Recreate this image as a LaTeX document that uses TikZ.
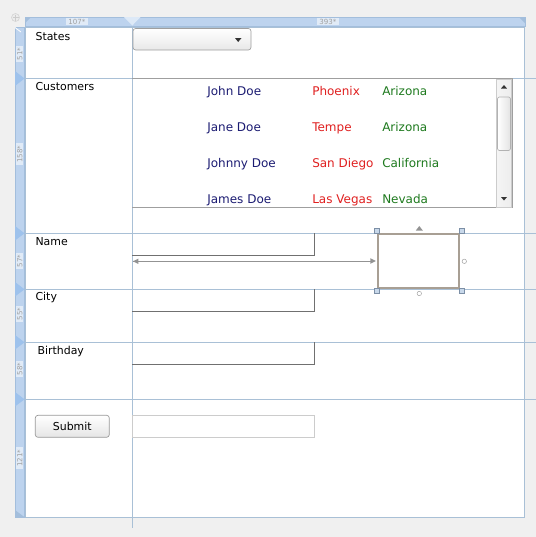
\documentclass[tikz,border=0pt]{standalone}
\usepackage{fontspec}
\setmainfont{DejaVu Sans}
\usetikzlibrary{positioning}

\definecolor{bggray}{HTML}{F0F0F0}
\definecolor{rulerblue}{HTML}{BDD3EE}
\definecolor{rulerline}{HTML}{A3BEDC}
\definecolor{markblue}{HTML}{9EC2EC}
\definecolor{markpale}{HTML}{DDE9F7}
\definecolor{gridline}{HTML}{A9C0D6}
\definecolor{boxline}{HTML}{707070}
\definecolor{navytext}{HTML}{1B1B72}
\definecolor{redtext}{HTML}{E02020}
\definecolor{greentext}{HTML}{1E7A1E}
\definecolor{selframe}{HTML}{A89F94}
\definecolor{handle}{HTML}{C8D8EA}
\definecolor{handleline}{HTML}{7C8FA6}

\begin{document}
\begin{tikzpicture}[x=0.75pt,y=-0.75pt,
    lbl/.style={anchor=base west,inner sep=0,font=\fontsize{8.2}{10}\selectfont},
    item/.style={anchor=base west,inner sep=0,font=\fontsize{9}{11}\selectfont},
    rulertext/.style={inner xsep=1.5,inner ysep=0.6,fill=rulerblue!45!white,text=gray!75,font=\fontsize{5.3}{6}\selectfont},
    grid/.style={draw=gridline,line width=0.75pt},
    tbox/.style={draw=boxline,line width=0.75pt},
    knob/.style={fill=handle,draw=handleline,line width=0.4pt}]

    % Background and frame
    \fill[bggray] (0,0) rectangle (536,537);
    \useasboundingbox (0,0) rectangle (536,537);
    \fill[white] (25,27) rectangle (524.3,517.3);

    % Rulers
    \filldraw[fill=rulerblue,draw=rulerline,line width=0.4pt] (25,17) -- (525,17) -- (525,26) -- (25,26) -- cycle;
    \fill[rulerline] (519,17) -- (525,17) -- (525,23) -- cycle;
    \filldraw[fill=rulerblue,draw=rulerline,line width=0.4pt] (15,27) -- (24.7,27) -- (24.7,517.3) -- (15,517.3) -- cycle;
    \fill[rulerline] (15,510) -- (24.7,517.3) -- (15,517.3) -- cycle;
    \fill[rulerline] (25,17) -- (31,17) -- (25,23) -- cycle;
    \fill[markpale] (124,17) -- (132.3,25.5) -- (140.5,17) -- cycle;
    \draw[white,line width=0.6pt] (15,27.5) -- (21,32);
    \node[rulertext] (w1) at (77,21.5) {107*};
    \node[rulertext] (w2) at (328,21.5) {393*};
    \node[rulertext,rotate=90] (h1) at (19.8,54) {51*};
    \node[rulertext,rotate=90] (h2) at (19.8,154) {158*};
    \node[rulertext,rotate=90] (h3) at (19.8,261) {57*};
    \node[rulertext,rotate=90] (h4) at (19.8,314) {55*};
    \node[rulertext,rotate=90] (h5) at (19.8,369) {58*};
    \node[rulertext,rotate=90] (h6) at (19.8,458) {121*};

    % Move handle
    \filldraw[fill=gray!15,draw=gray!35,line width=0.4pt] (15.5,17.5) circle (4);
    \draw[gray!40,line width=0.4pt] (12.5,17.5) -- (18.5,17.5) (15.5,14.5) -- (15.5,20.5);

    % Grid lines
    \draw[grid] (132.3,26) -- (132.3,527.5);
    \draw[grid] (24.7,78.5) -- (536,78.5);
    \draw[grid] (24.7,233.3) -- (536,233.3);
    \draw[grid] (24.7,289.3) -- (536,289.3);
    \draw[grid] (24.7,342.3) -- (536,342.3);
    \draw[grid] (24.7,399.3) -- (536,399.3);
    \draw[draw=gridline,line width=0.75pt] (25,27) rectangle (524.3,517.3);

    % Row markers on the left ruler
    \fill[markblue] (15,71) -- (24.5,78.5) -- (15,86) -- cycle;
    \fill[markblue] (15,226) -- (24.5,233.3) -- (15,240.5) -- cycle;
    \fill[markblue] (15,282) -- (24.5,289.3) -- (15,296.5) -- cycle;
    \fill[markblue] (15,335) -- (24.5,342.3) -- (15,349.5) -- cycle;
    \fill[markblue] (15,392) -- (24.5,399.3) -- (15,406.5) -- cycle;

    % Labels, first column
    \node[lbl] (states) at (35.3,40) {States};
    \node[lbl] (customers) at (35.3,90) {Customers};
    \node[lbl] (name) at (35.3,245) {Name};
    \node[lbl] (city) at (35.3,300.7) {City};
    \node[lbl] (birthday) at (37.3,354) {Birthday};

    % Combo box
    \draw[rounded corners=2,top color=white,bottom color=gray!18,draw=gray!75,line width=0.5pt] (133,28.5) rectangle (251,50);
    \fill[black!80] (235,38) -- (241.5,38) -- (238.2,42) -- cycle;

    % List box with scroll bar
    \draw[draw=gray!75,line width=0.6pt] (132.3,78.5) -- (512,78.5) -- (512,207.3) -- (132.3,207.3);
    \filldraw[left color=gray!8,right color=gray!14,draw=gray!40,line width=0.4pt] (496,79) rectangle (511.5,206.8);
    \draw[rounded corners=1.5,left color=white,right color=gray!22,draw=gray!60,line width=0.5pt] (497.5,97) rectangle (510.5,150.5);
    \fill[black!80] (501,88.5) -- (507,88.5) -- (504,85) -- cycle;
    \fill[black!80] (501,197) -- (507,197) -- (504,200.5) -- cycle;

    \node[item,text=navytext] (n1) at (207,95) {John Doe};
    \node[item,text=redtext] (c1) at (312,95) {Phoenix};
    \node[item,text=greentext] (s1) at (382,95) {Arizona};
    \node[item,text=navytext] (n2) at (207,131) {Jane Doe};
    \node[item,text=redtext] (c2) at (312,131) {Tempe};
    \node[item,text=greentext] (s2) at (382,131) {Arizona};
    \node[item,text=navytext] (n3) at (207,167) {Johnny Doe};
    \node[item,text=redtext] (c3) at (312,167) {San Diego};
    \node[item,text=greentext] (s3) at (382,167) {California};
    \node[item,text=navytext] (n4) at (207,203) {James Doe};
    \node[item,text=redtext] (c4) at (312,203) {Las Vegas};
    \node[item,text=greentext] (s4) at (382,203) {Nevada};

    % Text boxes
    \draw[tbox] (132.3,255.3) -| (314.3,233.3);
    \draw[tbox] (132.3,311.3) -| (314.3,289.3);
    \draw[tbox] (132.3,364) -| (314.3,342.3);
    \draw[draw=gray!40,line width=0.6pt] (132.3,415.3) rectangle (314.3,437.3);

    % Submit button
    \draw[rounded corners=2,top color=white,bottom color=gray!20,draw=gray!80,line width=0.5pt] (35.3,415.3) rectangle (109.3,437.3);
    \node[inner sep=0,font=\fontsize{8.2}{10}\selectfont] (submit) at (72.3,426.3) {Submit};

    % Selected element with adorners
    \node[draw=selframe,line width=1.4pt,minimum width=81pt*0.75,minimum height=54pt*0.75,inner sep=0] (sel) at (418.8,261) {};
    \coordinate (colA) at (132.8,261.3);
    \draw[gray!85,line width=0.5pt] (372,261.3) -- (colA);
    \fill[gray!85] (colA) -- ++(5.5,-2.6) -- ++(0,5.2) -- cycle;
    \fill[gray!85] (sel.west) ++(-1.5,0) -- ++(-5.5,2.8) -- ++(0,-5.6) -- cycle;
    \fill[gray!85] (419.3,226) -- (415.8,230.5) -- (422.8,230.5) -- cycle;
    \draw[gray!70,line width=0.4pt] (464.3,261.3) circle (2.2);
    \draw[gray!70,line width=0.4pt] (419.3,293.5) circle (2.2);
    \draw[knob] (373.8,228.5) rectangle (378.8,233.5);
    \draw[knob] (459.5,228.5) rectangle (464.5,233.5);
    \draw[knob] (373.8,288.5) rectangle (378.8,293.5);
    \draw[knob] (459.5,288.5) rectangle (464.5,293.5);

\end{tikzpicture}
\end{document}
